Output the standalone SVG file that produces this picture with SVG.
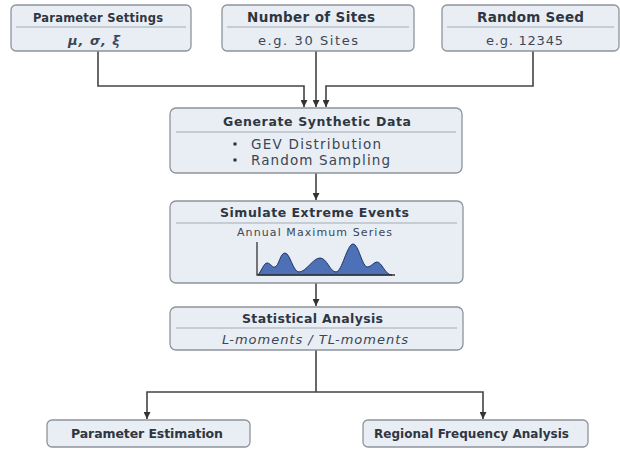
<svg xmlns="http://www.w3.org/2000/svg" width="620" height="449" viewBox="0 0 620 449">
<defs>
<marker id="arr" viewBox="0 0 10 10" refX="10" refY="5" markerWidth="7" markerHeight="7" markerUnits="userSpaceOnUse" orient="auto">
<path d="M0,0 L10,5 L0,10 z" fill="#333"/>
</marker>
<style>
.box{fill:#e9eef4;stroke:#8e949c;stroke-width:1.3}
.div{stroke:#a3aab2;stroke-width:1}
.t{font-family:"DejaVu Sans","Liberation Sans",sans-serif;font-weight:bold;fill:#2f3642}
.s{font-family:"DejaVu Sans","Liberation Sans",sans-serif;fill:#3b4656}
.c{fill:none;stroke:#444;stroke-width:1.6}
</style>
</defs>
<rect width="620" height="449" fill="#ffffff"/>
<g id="connectors">
<polyline class="c" points="98,51 98,86 304,86 304,107" marker-end="url(#arr)"/>
<polyline class="c" points="316,51 316,107" marker-end="url(#arr)"/>
<polyline class="c" points="533,51 533,86 326,86 326,107" marker-end="url(#arr)"/>
<polyline class="c" points="316,173 316,200" marker-end="url(#arr)"/>
<polyline class="c" points="316,283 316,306" marker-end="url(#arr)"/>
<polyline class="c" points="316,350 316,392"/>
<polyline class="c" points="316,392 147,392 147,419" marker-end="url(#arr)"/>
<polyline class="c" points="316,392 483,392 483,419" marker-end="url(#arr)"/>
</g>
<g id="param-settings">
<rect class="box" x="11" y="5" width="180" height="46" rx="5"/>
<line class="div" x1="16" y1="27" x2="186" y2="27"/>
<text class="t" x="33" y="22" font-size="11.5" textLength="130">Parameter Settings</text>
<text class="s" x="68" y="45" font-size="13" font-style="italic" font-weight="bold" textLength="52">μ, σ, ξ</text>
</g>
<g id="num-sites">
<rect class="box" x="222" y="5" width="192" height="46" rx="5"/>
<line class="div" x1="227" y1="27" x2="409" y2="27"/>
<text class="t" x="247" y="22" font-size="13.5" textLength="128">Number of Sites</text>
<text class="s" x="258" y="45" font-size="13" textLength="100">e.g. 30 Sites</text>
</g>
<g id="random-seed">
<rect class="box" x="442" y="5" width="177" height="46" rx="5"/>
<line class="div" x1="447" y1="27" x2="614" y2="27"/>
<text class="t" x="477" y="22" font-size="13.5" textLength="107">Random Seed</text>
<text class="s" x="486" y="45" font-size="13" textLength="77">e.g. 12345</text>
</g>
<g id="generate">
<rect class="box" x="170" y="108" width="292" height="65" rx="6"/>
<line class="div" x1="176" y1="132" x2="456" y2="132"/>
<text class="t" x="223" y="126" font-size="12.5" textLength="188">Generate Synthetic Data</text>
<circle cx="235" cy="144" r="1.8" fill="#2f3642"/>
<circle cx="235" cy="160" r="1.8" fill="#2f3642"/>
<text class="s" x="251" y="148.5" font-size="13.5" textLength="130">GEV Distribution</text>
<text class="s" x="251" y="164.5" font-size="13.5" textLength="139">Random Sampling</text>
</g>
<g id="simulate">
<rect class="box" x="170" y="201" width="293" height="82" rx="6"/>
<line class="div" x1="176" y1="223" x2="457" y2="223"/>
<text class="t" x="220" y="217" font-size="12.5" textLength="189">Simulate Extreme Events</text>
<text class="s" x="237" y="236" font-size="11" textLength="155">Annual Maximum Series</text>
<path d="M258,275 C262,270 264,263 267,263 C271,263 272,268 275,267 C279,266 280,253 285,253 C290,253 293,272 299,272 C306,272 313,258 320,258 C327,258 330,272 336,272 C342,272 347,244 353,244 C359,244 362,268 368,267 C372,266 374,262 377,262 C382,262 385,275 392,275 Z" fill="#4d70b6" stroke="#1f3566" stroke-width="1"/>
<polyline points="257,242 257,275 395,275" fill="none" stroke="#333" stroke-width="1.3"/>
</g>
<g id="statistical">
<rect class="box" x="170" y="307" width="293" height="43" rx="6"/>
<line class="div" x1="176" y1="328" x2="457" y2="328"/>
<text class="t" x="242" y="323" font-size="12.5" textLength="141">Statistical Analysis</text>
<text class="s" x="222" y="343.5" font-size="13" font-style="italic" textLength="186">L-moments / TL-moments</text>
</g>
<g id="param-est">
<rect class="box" x="47" y="420" width="203" height="27" rx="5"/>
<text class="t" x="71" y="438" font-size="12.5" textLength="152">Parameter Estimation</text>
</g>
<g id="regional">
<rect class="box" x="363" y="420" width="225" height="27" rx="5"/>
<text class="t" x="374" y="438" font-size="12" textLength="195">Regional Frequency Analysis</text>
</g>
</svg>
